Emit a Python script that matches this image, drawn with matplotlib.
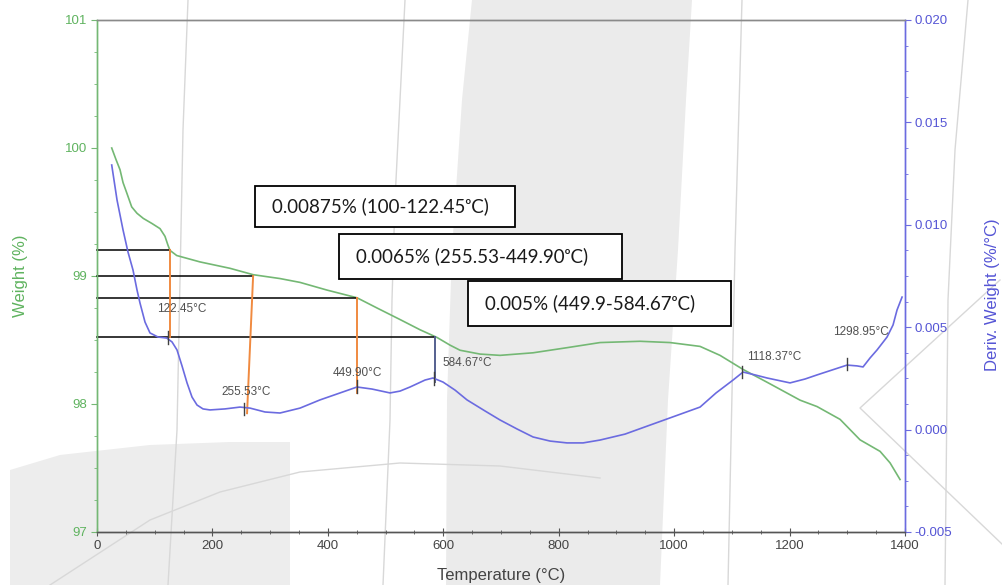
import matplotlib
matplotlib.use('Agg')
import matplotlib.pyplot as plt
from matplotlib.patches import Polygon, Rectangle
from matplotlib.lines import Line2D
from matplotlib.ticker import MultipleLocator, FormatStrFormatter, FixedLocator

# ---------------- data ----------------
weight_temp = [25.5, 32.9, 39.9, 45.1, 51.5, 60.1, 69.3, 80.2, 95.3, 109.2, 117.8,
               123.0, 126.5, 138.1, 178.5, 230.5, 270.8, 317.1, 351.8, 398.5,
               450.5, 485.2, 525.0, 559.7, 589.1, 611.6, 629.0, 663.7, 698.3,
               755.5, 814.4, 871.6, 940.9, 992.9, 1044.9, 1079.5, 1119.4, 1161.0,
               1218.2, 1247.6, 1287.5, 1322.1, 1356.8, 1374.1, 1391.4]
weight_pct = [100.00, 99.91, 99.83, 99.73, 99.65, 99.54, 99.49, 99.45, 99.41, 99.37, 99.31,
              99.24, 99.20, 99.16, 99.11, 99.06, 99.01, 98.98, 98.95, 98.89,
              98.83, 98.75, 98.66, 98.58, 98.52, 98.46, 98.42, 98.39, 98.38,
              98.40, 98.44, 98.48, 98.49, 98.48, 98.45, 98.38, 98.27, 98.17,
              98.03, 97.98, 97.88, 97.72, 97.63, 97.54, 97.41]

deriv_temp = [25.5, 34.7, 45.1, 53.7, 62.4, 69.3, 74.5, 83.2, 91.8, 105.7, 120.8,
              130.0, 138.6, 147.3, 156.0, 164.6, 173.3, 183.7, 195.8, 221.8, 247.8,
              265.1, 291.1, 317.1, 351.8, 386.4, 421.1, 450.5, 476.5, 507.7, 525.0,
              542.4, 568.4, 582.2, 599.6, 620.3, 641.1, 672.3, 698.3, 727.8, 755.5,
              785.0, 814.4, 842.2, 871.6, 914.9, 958.2, 1001.6, 1044.9, 1072.6,
              1102.1, 1119.4, 1140.2, 1161.0, 1200.8, 1226.8, 1247.6, 1273.6,
              1299.6, 1316.9, 1327.3, 1339.5, 1351.6, 1368.9, 1379.3, 1386.2, 1394.9]
deriv_val = [0.01292, 0.01121, 0.00975, 0.00867, 0.00779, 0.00682, 0.00618, 0.00525,
             0.00472, 0.00452, 0.00447, 0.00428, 0.00389, 0.00311, 0.00228, 0.00159,
             0.00120, 0.00101, 0.00096, 0.00101, 0.00110, 0.00105, 0.00086, 0.00081,
             0.00105, 0.00145, 0.00179, 0.00208, 0.00198, 0.00179, 0.00188, 0.00208,
             0.00242, 0.00252, 0.00232, 0.00193, 0.00145, 0.00091, 0.00047, 0.00003,
             -0.00036, -0.00056, -0.00065, -0.00065, -0.00051, -0.00022, 0.00022,
             0.00066, 0.00110, 0.00179, 0.00242, 0.00281, 0.00267, 0.00252, 0.00228,
             0.00247, 0.00267, 0.00291, 0.00315, 0.00311, 0.00306, 0.00350, 0.00389,
             0.00452, 0.00511, 0.00584, 0.00647]

x_ticks = [0, 200, 400, 600, 800, 1000, 1200, 1400]
w_ticks = [97, 98, 99, 100, 101]
d_ticks = [-0.005, 0.000, 0.005, 0.010, 0.015, 0.020]

peak_temps = [122.45, 255.53, 449.90, 584.67, 1118.37, 1298.95]
peak_derivs = [0.0045, 0.0010, 0.0021, 0.0025, 0.0028, 0.0032]

guide_levels = [99.20, 99.00, 98.83, 98.52]      # weight (%) of black guide lines
guide_end_T = [126.5, 270.5, 450.5, 585.5]       # where each guide meets the curve
drop_bottom_T = [126.5, 260.0, 450.5, 585.5]
drop_bottom_D = [0.0045, 0.0008, 0.0018, 0.0023]
drop_colors = ['#f08a40', '#f08a40', '#f08a40', '#55608f']

box_texts = ['0.00875% (100-122.45\u1d52C)',
             '0.0065% (255.53-449.90\u1d52C)',
             '0.005% (449.9-584.67\u1d52C)']

# ---------------- figure ----------------
plt.rcParams['font.family'] = ['Liberation Sans', 'DejaVu Sans']
plt.rcParams['axes.unicode_minus'] = False

FW, FH = 1003, 585
fig = plt.figure(figsize=(FW / 100, FH / 100), dpi=100)
fig.patch.set_facecolor('white')


def fp(x, y):
    return (x / FW, 1 - y / FH)


# watermark-like background shapes
band = [fp(472, 0), fp(462, 100), fp(452, 250), fp(447, 400), fp(446, 585),
        fp(660, 585), fp(668, 400), fp(678, 250), fp(686, 100), fp(692, 0)]
fig.add_artist(Polygon(band, closed=True, transform=fig.transFigure,
                       facecolor='#ebebeb', edgecolor='none', zorder=-10))
blob = [fp(10, 585), fp(10, 470), fp(60, 455), fp(150, 445), fp(230, 442),
        fp(290, 442), fp(290, 585)]
fig.add_artist(Polygon(blob, closed=True, transform=fig.transFigure,
                       facecolor='#ededed', edgecolor='none', zorder=-10))
thin_lines = [
    [(188, 0), (183, 130), (177, 430), (168, 585)],
    [(405, 0), (395, 200), (392, 300), (390, 420), (383, 585)],
    [(742, 0), (735, 250), (728, 585)],
    [(968, 0), (955, 150), (948, 300), (945, 585)],
    [(50, 585), (150, 520), (220, 492), (300, 472), (400, 463), (500, 466), (600, 478)],
    [(1000, 280), (860, 408), (1003, 545)],
]
for pts in thin_lines:
    xs = [p[0] / FW for p in pts]
    ys = [1 - p[1] / FH for p in pts]
    fig.add_artist(Line2D(xs, ys, transform=fig.transFigure, color='#d8d8d8',
                          lw=1.0, zorder=-9))

ax = fig.add_axes([97 / FW, 1 - 532 / FH, (905 - 97) / FW, (532 - 20) / FH])
ax.set_facecolor('none')
ax2 = ax.twinx()

GREEN = '#74b874'
GREEN_T = '#5fb35f'
BLUE = '#6b6be0'
BLUE_T = '#5555d5'

ax.plot(weight_temp, weight_pct, color=GREEN, lw=1.2, zorder=3)
ax2.plot(deriv_temp, deriv_val, color=BLUE, lw=1.2, zorder=3)

ax.set_xlim(0, 1400)
ax.set_ylim(97, 101)
ax2.set_ylim(-0.005, 0.020)

ax.xaxis.set_major_locator(FixedLocator(x_ticks))
ax.xaxis.set_minor_locator(MultipleLocator(50))
ax.yaxis.set_major_locator(FixedLocator(w_ticks))
ax.yaxis.set_minor_locator(MultipleLocator(0.25))
ax2.yaxis.set_major_locator(FixedLocator(d_ticks))
ax2.yaxis.set_minor_locator(MultipleLocator(0.00125))
ax2.yaxis.set_major_formatter(FormatStrFormatter('%.3f'))
ax.set_yticklabels([str(v) for v in w_ticks])

ax.tick_params(axis='x', which='major', direction='inout', length=6, width=0.8,
               colors='#555555', labelsize=9.5, labelcolor='#444444', pad=3)
ax.tick_params(axis='x', which='minor', direction='inout', length=3, width=0.6,
               colors='#555555')
ax.tick_params(axis='y', which='major', direction='out', length=4, width=0.8,
               colors=GREEN, labelsize=9.5, labelcolor=GREEN_T, pad=3)
ax.tick_params(axis='y', which='minor', direction='out', length=2.5, width=0.6,
               colors=GREEN)
ax2.tick_params(axis='y', which='major', direction='out', length=4, width=0.8,
                colors=BLUE, labelsize=9.5, labelcolor=BLUE_T, pad=3)
ax2.tick_params(axis='y', which='minor', direction='out', length=2.5, width=0.6,
                colors=BLUE)

for a in (ax, ax2):
    a.spines['left'].set_color(GREEN)
    a.spines['right'].set_color(BLUE)
    a.spines['top'].set_color('#8a8a8a')
    a.spines['bottom'].set_color('#555555')
    for s in a.spines.values():
        s.set_linewidth(1.0)

ax.set_ylabel('Weight (%)', color=GREEN_T, fontsize=12)
ax.yaxis.set_label_coords(-0.085, 0.5)
ax2.set_ylabel('Deriv. Weight (%/°C)', color=BLUE_T, fontsize=12, rotation=90)
ax2.yaxis.set_label_coords(1.099, 0.463)
ax.set_xlabel('Temperature (°C)', color='#444444', fontsize=12)
ax.xaxis.set_label_coords(0.5, -0.07)


def d2w(d):
    lo, hi = ax2.get_ylim()
    wlo, whi = ax.get_ylim()
    return wlo + (d - lo) / (hi - lo) * (whi - wlo)


# guide lines
for lvl, xe in zip(guide_levels, guide_end_T):
    ax.plot([0, xe], [lvl, lvl], color='black', lw=1.1, zorder=4, clip_on=False)
for lvl, xe, xb, db, c in zip(guide_levels, guide_end_T, drop_bottom_T,
                               drop_bottom_D, drop_colors):
    ax.plot([xe, xb], [lvl, d2w(db)], color=c, lw=1.4, zorder=4)

# peak markers and labels
label_pos = [(147.3, 0.00589), (257.8, 0.00184), (451.4, 0.00276),
             (642.0, 0.00325), (1173.0, 0.00354), (1323.9, 0.00477)]
for t, d, (lx, ly) in zip(peak_temps, peak_derivs, label_pos):
    ax2.plot([t, t], [d - 0.0003, d + 0.0003], color='#404040', lw=1.0, zorder=5)
    ax2.text(lx, ly, f'{t:.2f}°C', ha='center', va='center', fontsize=8.5,
             color='#505050', zorder=6)

# boxes
boxes = [(255, 186, 515, 227), (339, 234, 622, 279), (468, 281, 731, 326)]
for (x0, y0, x1, y1), txt in zip(boxes, box_texts):
    fig.add_artist(Rectangle(fp(x0, y1), (x1 - x0) / FW, (y1 - y0) / FH,
                             transform=fig.transFigure, facecolor='white',
                             edgecolor='black', lw=1.3, zorder=20))
    tx, ty = fp(x0 + 17, (y0 + y1) / 2)
    fig.text(tx, ty, txt, ha='left', va='center', fontsize=13.5,
             family=['Lato', 'DejaVu Sans'], color='#1a1a1a', zorder=21)

fig.savefig('out.png', dpi=100, facecolor='white')
